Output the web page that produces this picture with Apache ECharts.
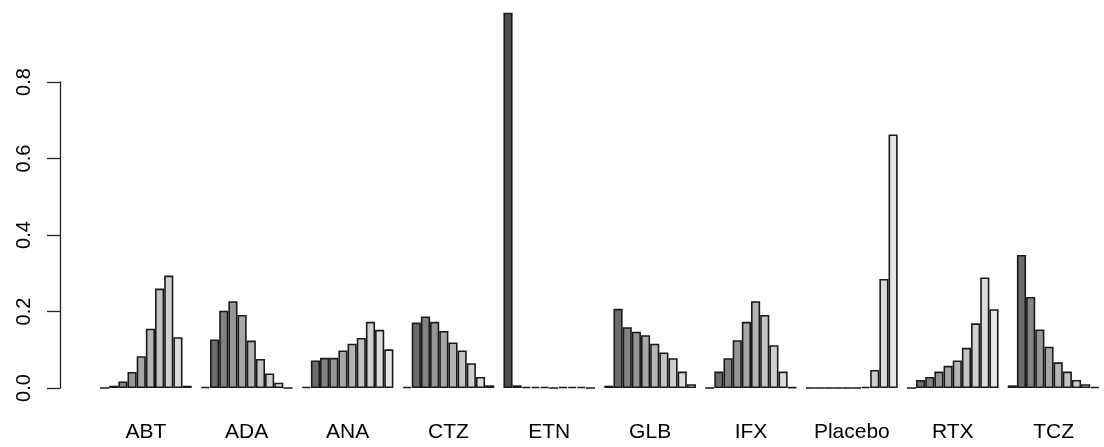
<!DOCTYPE html>
<html>
<head>
<meta charset="utf-8">
<script src="https://cdn.jsdelivr.net/npm/echarts@6/dist/echarts.min.js"></script>
<style>
  html, body { margin: 0; padding: 0; background: #ffffff; }
  #chart { width: 1104px; height: 447px; }
</style>
</head>
<body>
<div id="chart"></div>
<script>
// Categories (treatments)
const categories = ["ABT", "ADA", "ANA", "CTZ", "ETN", "GLB", "IFX", "Placebo", "RTX", "TCZ"];

// Values per treatment: 10 bars each (levels 1..10)
const ABT     = [0.000, 0.006, 0.017, 0.042, 0.083, 0.155, 0.260, 0.294, 0.133, 0.006];
const ADA     = [0.003, 0.127, 0.202, 0.227, 0.191, 0.124, 0.076, 0.038, 0.014, 0.000];
const ANA     = [0.003, 0.072, 0.079, 0.079, 0.098, 0.116, 0.131, 0.173, 0.152, 0.101];
const CTZ     = [0.003, 0.171, 0.187, 0.173, 0.149, 0.119, 0.098, 0.065, 0.029, 0.007];
const ETN     = [0.981, 0.007, 0.003, 0.003, 0.003, 0.000, 0.003, 0.003, 0.003, 0.000];
const GLB     = [0.006, 0.207, 0.159, 0.147, 0.138, 0.116, 0.093, 0.078, 0.043, 0.010];
const IFX     = [0.000, 0.043, 0.078, 0.125, 0.173, 0.227, 0.191, 0.112, 0.043, 0.002];
const Placebo = [0.000, 0.000, 0.000, 0.000, 0.000, 0.000, 0.003, 0.047, 0.285, 0.663];
const RTX     = [0.000, 0.021, 0.029, 0.043, 0.058, 0.072, 0.105, 0.169, 0.289, 0.206];
const TCZ     = [0.007, 0.348, 0.238, 0.153, 0.108, 0.067, 0.043, 0.021, 0.010, 0.003];

const levels = ["1", "2", "3", "4", "5", "6", "7", "8", "9", "10"];
const yTicks = [0.0, 0.2, 0.4, 0.6, 0.8];

// R gray.colors(10) palette
const grays = ["#4D4D4D", "#6C6C6C", "#838383", "#969696", "#A7A7A7",
               "#B5B5B5", "#C3C3C3", "#CFCFCF", "#DBDBDB", "#E6E6E6"];

const table = [ABT, ADA, ANA, CTZ, ETN, GLB, IFX, Placebo, RTX, TCZ];

const series = levels.map((lv, i) => ({
  name: lv,
  type: "bar",
  clip: false,
  barGap: "0%",
  barCategoryGap: "9.0909%",
  data: table.map(row => row[i]),
  itemStyle: { color: grays[i], borderColor: "#1a1a1a", borderWidth: 1.6 },
  emphasis: { disabled: true },
  animation: false
}));

const chart = echarts.init(document.getElementById("chart"), null, { renderer: "canvas" });
chart.setOption({
  backgroundColor: "#ffffff",
  animation: false,
  grid: { left: 95.4, width: 1010, top: 82, height: 306, containLabel: false },
  xAxis: {
    type: "category",
    data: categories,
    axisLine: { show: false },
    axisTick: { show: false },
    axisLabel: {
      margin: 34,
      fontFamily: "Liberation Sans, Arial, sans-serif",
      fontSize: 21,
      color: "#000000"
    }
  },
  yAxis: {
    type: "value",
    min: yTicks[0],
    max: yTicks[yTicks.length - 1],
    interval: 0.2,
    offset: 35.4,
    splitLine: { show: false },
    axisLine: { show: true, lineStyle: { color: "#222222", width: 1.3 } },
    axisTick: { show: true, length: 13, lineStyle: { color: "#222222", width: 1.3 } },
    axisLabel: {
      rotate: 90,
      margin: 26,
      fontFamily: "Liberation Sans, Arial, sans-serif",
      fontSize: 20,
      color: "#000000",
      formatter: v => v.toFixed(1)
    }
  },
  series: series
});
</script>
</body>
</html>
